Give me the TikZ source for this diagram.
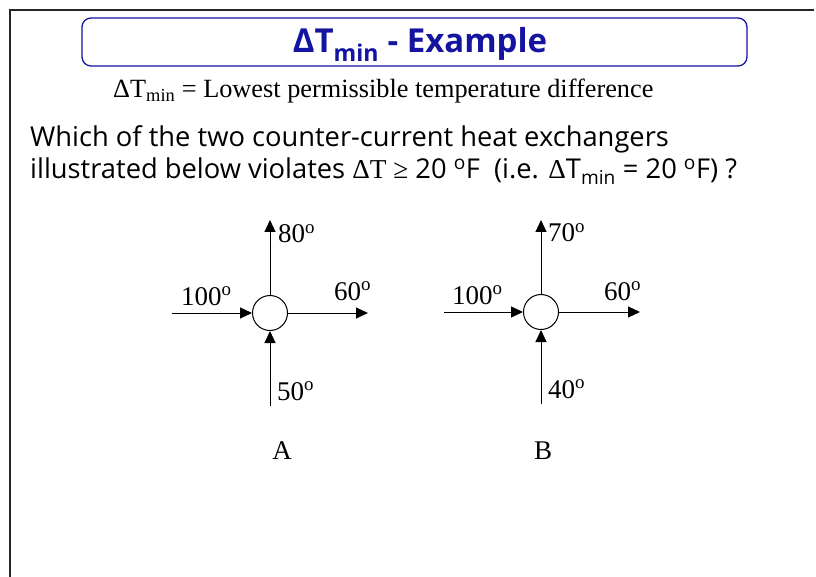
\documentclass[tikz,border=0pt]{standalone}
\usepackage{fontspec}
\setmainfont{Liberation Serif}
\newfontfamily\comic{Open Sans}
\newfontfamily\symb{Liberation Serif}
\usetikzlibrary{arrows.meta}
\definecolor{titleblue}{HTML}{1414A0}
\tikzset{
  flow/.style={line width=1pt, -{Triangle[length=12pt,width=11pt]}},
  hx/.style={circle, draw, line width=1pt, minimum size=35pt, inner sep=0pt},
  lbl/.style={font=\fontsize{27}{30}\selectfont, inner sep=0pt},
  frame/.style={line width=1.5pt, black!85},
}
\begin{document}
\begin{tikzpicture}[x=1pt,y=-1pt]
\useasboundingbox (0,0) rectangle (816,577);
\draw[frame] (10,577) -- (10,10) -- (814,10);
\node[draw=titleblue, line width=1.3pt, rounded corners=9pt, minimum width=665pt, minimum height=48pt, inner sep=0pt] (titlebox) at (414.5,42) {};
\node[text=titleblue, inner sep=0pt, anchor=base, font=\comic\bfseries\fontsize{33}{36}\selectfont] (title) at (420,53) {ΔT\textsubscript{min} - Example};
\node[anchor=base west, inner sep=0pt, font=\fontsize{26.3}{29}\selectfont] (def) at (113,98) {ΔT\textsubscript{min} = Lowest permissible temperature difference};
\node[anchor=base west, inner sep=0pt, font=\comic\fontsize{27.3}{30}\selectfont] (q1) at (30,147) {Which of the two counter-current heat exchangers};
\node[anchor=base west, inner sep=0pt, font=\comic\fontsize{27.3}{30}\selectfont] (q2) at (30,179) {illustrated below violates {\symb ΔT ≥} 20 \textsuperscript{o}F\ \ (i.e. {\symb Δ}T\textsubscript{min} = 20 \textsuperscript{o}F) ?};
% Exchanger A
\node[hx] (hA) at (270,313) {};
\coordinate (aIn) at (172,313);
\coordinate (aOut) at (368,313);
\coordinate (aTop) at (270,220);
\coordinate (aBot) at (270,406);
\draw[flow] (aIn) -- (hA.west);
\draw[flow] (hA.east) -- (aOut);
\draw[flow] (hA.north) -- (aTop);
\draw[flow] (aBot) -- (hA.south);
\node[lbl, anchor=base west] (a100) at (181,305) {100\textsuperscript{o}};
\node[lbl, anchor=base west] (a60) at (334,300) {60\textsuperscript{o}};
\node[lbl, anchor=base west] (a80) at (278,243) {80\textsuperscript{o}};
\node[lbl, anchor=base west] (a50) at (277,400) {50\textsuperscript{o}};
\node[lbl, anchor=base] (labA) at (282,459) {A};
% Exchanger B
\node[hx] (hB) at (541,312) {};
\coordinate (bIn) at (444,312);
\coordinate (bOut) at (640,312);
\coordinate (bTop) at (541,220);
\coordinate (bBot) at (541,404);
\draw[flow] (bIn) -- (hB.west);
\draw[flow] (hB.east) -- (bOut);
\draw[flow] (hB.north) -- (bTop);
\draw[flow] (bBot) -- (hB.south);
\node[lbl, anchor=base west] (b100) at (452,304) {100\textsuperscript{o}};
\node[lbl, anchor=base west] (b60) at (604,300) {60\textsuperscript{o}};
\node[lbl, anchor=base west] (b70) at (548,242) {70\textsuperscript{o}};
\node[lbl, anchor=base west] (b40) at (548,398) {40\textsuperscript{o}};
\node[lbl, anchor=base] (labB) at (543,459) {B};
\end{tikzpicture}
\end{document}
